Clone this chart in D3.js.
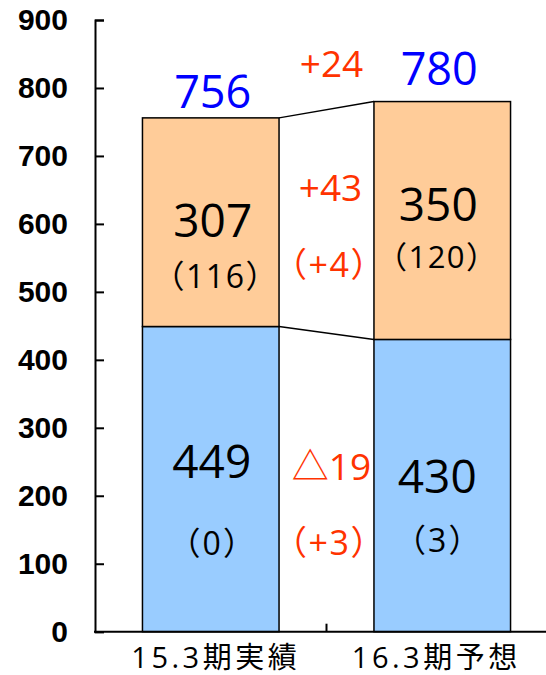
<!DOCTYPE html>
<html><head><meta charset="utf-8">
<script src="https://cdn.jsdelivr.net/npm/d3@7"></script>
<style>html,body{margin:0;padding:0;background:#fff;}</style>
</head><body>
<svg id="chart" width="546" height="675"></svg>
<script>
const categories = ["15.3期実績", "16.3期予想"];
const lowerValues = [449, 430];
const upperValues = [307, 350];
const totals = [756, 780];
const lowerNotes = ["（0）", "（3）"];
const upperNotes = ["（116）", "（120）"];
const diffTotal = "+24";
const diffUpper = "+43";
const diffUpperNote = "（+4）";
const diffLower = "△19";
const diffLowerNote = "（+3）";
const yTicks = [0, 100, 200, 300, 400, 500, 600, 700, 800, 900];

const svg = d3.select("#chart");
const CJK = "'Open Sans', 'Noto Sans CJK JP', sans-serif";
const red = "#ff3300";

const y = d3.scaleLinear().domain([0, 900]).range([631.7, 20]);
const x = d3.scaleBand().domain(categories).range([95, 558]).paddingInner(0.41).paddingOuter(0.205);
const step = x.step();

// y axis
const yAxis = d3.axisLeft(y).tickValues(yTicks).tickSizeInner(-9).tickSizeOuter(-9).tickPadding(27).tickFormat(d3.format("d"));
const gy = svg.append("g").attr("transform", "translate(95,0)").call(yAxis);
gy.selectAll("path, line").attr("stroke", "#000").attr("stroke-width", 2);
gy.selectAll("text").attr("font-family", "'Liberation Sans', Arial, sans-serif").attr("font-weight", "bold").attr("font-size", 30).attr("fill", "#000");

// bars
const bars = svg.append("g");
categories.forEach((c, i) => {
  bars.append("rect").attr("x", x(c)).attr("width", x.bandwidth())
    .attr("y", y(lowerValues[i])).attr("height", y(0) - y(lowerValues[i]))
    .attr("fill", "#99ccff").attr("stroke", "#000").attr("stroke-width", 1.5);
  bars.append("rect").attr("x", x(c)).attr("width", x.bandwidth())
    .attr("y", y(totals[i])).attr("height", y(lowerValues[i]) - y(totals[i]))
    .attr("fill", "#ffcc99").attr("stroke", "#000").attr("stroke-width", 1.5);
});

// connector lines
const x0r = x(categories[0]) + x.bandwidth(), x1l = x(categories[1]);
svg.append("line").attr("x1", x0r).attr("x2", x1l).attr("y1", y(totals[0])).attr("y2", y(totals[1])).attr("stroke", "#000").attr("stroke-width", 1.5);
svg.append("line").attr("x1", x0r).attr("x2", x1l).attr("y1", y(lowerValues[0])).attr("y2", y(lowerValues[1])).attr("stroke", "#000").attr("stroke-width", 1.5);

// x axis
svg.append("line").attr("x1", 94).attr("x2", 546).attr("y1", y(0)).attr("y2", y(0)).attr("stroke", "#000").attr("stroke-width", 2);
const sep = x(categories[1]) - step * 0.41 / 2;
svg.append("line").attr("x1", sep).attr("x2", sep).attr("y1", y(0)).attr("y2", y(0) - 8).attr("stroke", "#000").attr("stroke-width", 2);
const labelOffsets = [5, -6];
categories.forEach((c, i) => {
  svg.append("text").attr("x", x(c) + x.bandwidth() / 2 + labelOffsets[i]).attr("y", 668)
    .attr("text-anchor", "middle").attr("font-family", CJK).attr("font-size", 29)
    .attr("letter-spacing", 3.5).attr("fill", "#000").text(c);
});

function txt(t, xx, yy, size, fill, ls) {
  svg.append("text").attr("x", xx).attr("y", yy).attr("text-anchor", "middle")
    .attr("font-family", CJK).attr("font-size", size).attr("letter-spacing", ls || 0).attr("fill", fill).text(t);
}
const cx = categories.map(c => x(c) + x.bandwidth() / 2);
const mid = (x0r + x1l) / 2;

// totals
txt(totals[0], cx[0] + 2, 108, 45, "#0000ff");
txt(totals[1], cx[1] - 3, 85, 45, "#0000ff");
// upper segment
txt(upperValues[0], cx[0] + 2, 237, 46, "#000");
txt(upperNotes[0], cx[0] + 5, 288, 32, "#000", 1.5);
txt(upperValues[1], cx[1] - 4, 221, 46, "#000");
txt(upperNotes[1], cx[1] - 5, 268, 31, "#000", 1.5);
// lower segment
txt(lowerValues[0], cx[0] + 1, 478, 46, "#000");
txt(lowerNotes[0], cx[0] + 2, 555, 32, "#000", 2);
txt(lowerValues[1], cx[1] - 5, 493, 46, "#000");
txt(lowerNotes[1], cx[1] - 4, 552, 32, "#000", 2);
// differences
txt(diffTotal, mid + 5, 77, 37, red);
txt(diffUpper, mid + 4, 201, 37, red);
txt(diffUpperNote, mid + 3, 277, 34, red, 1.5);
txt(diffLower, mid + 5, 480, 37, red);
txt(diffLowerNote, mid + 3, 555, 34, red, 1.5);
</script>
</body></html>
